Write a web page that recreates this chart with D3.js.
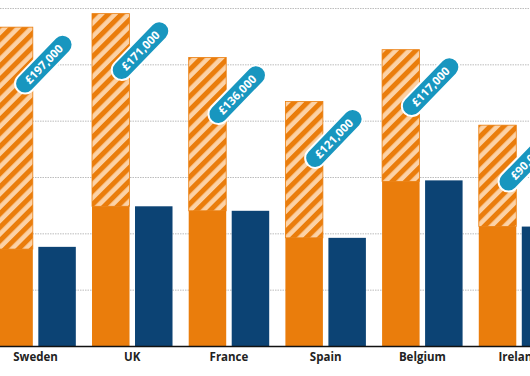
<!DOCTYPE html>
<html lang="en">
  <head>
    <meta charset="utf-8" />
    <title>Bars with hatched top-up</title>
    <script src="https://d3js.org/d3.v7.min.js"></script>
    <style type="text/css">
      body {
        margin: 0;
        background: white;
      }
      .country {
        font-family: "Open Sans", sans-serif;
        font-size: 11.5px;
        font-weight: 700;
        fill: #222;
      }
      .badge text {
        font-family: "Open Sans", sans-serif;
        font-size: 11.5px;
        font-weight: 700;
        fill: white;
      }
    </style>
  </head>
  <body>
    <script type="text/javascript">
      const w = 530;
      const h = 376;

      // Data (thousands of pounds)
      const countries = ["Sweden", "UK", "France", "Spain", "Belgium", "Ireland"];
      const orangeBase = [86, 124, 120, 96, 146, 106];
      const orangeExtra = [197, 171, 136, 121, 117, 90];
      const navyValues = [88, 124, 120, 96, 147, 106];
      const extraLabels = ["£197,000", "£171,000", "£136,000", "£121,000", "£117,000", "£90,000"];
      const gridTicks = [50, 100, 150, 200, 250, 300];

      const orange = "#ea7d0c";
      const peach = "#fcd2a6";
      const navy = "#0c4374";
      const teal = "#1896bf";

      const svg = d3
        .select("body")
        .append("svg")
        .attr("width", w)
        .attr("height", h);

      // Hatch pattern
      const pattern = svg
        .append("defs")
        .append("pattern")
        .attr("id", "hatch")
        .attr("patternUnits", "userSpaceOnUse")
        .attr("width", 9.5)
        .attr("height", 9.5)
        .attr("patternTransform", "rotate(45)");
      pattern.append("rect").attr("width", 9.5).attr("height", 9.5).attr("fill", peach);
      pattern.append("rect").attr("width", 5).attr("height", 9.5).attr("fill", orange);

      // Scales
      const x = d3
        .scaleBand()
        .domain(countries)
        .range([-12.8, 567.4])
        .paddingInner(0.1675)
        .paddingOuter(0.084);

      const xInner = d3
        .scaleBand()
        .domain(["orange", "navy"])
        .range([0, x.bandwidth()])
        .paddingInner(0.128);

      const y = d3.scaleLinear().domain([0, 300]).range([346, 8]);

      // Gridlines
      svg
        .selectAll("line.grid")
        .data(gridTicks)
        .enter()
        .append("line")
        .attr("class", "grid")
        .attr("x1", 0)
        .attr("x2", w)
        .attr("y1", (d) => y(d) + 0.5)
        .attr("y2", (d) => y(d) + 0.5)
        .attr("stroke", "#bdbdbd")
        .attr("stroke-width", 1)
        .attr("stroke-dasharray", "1.5,1");

      const rows = countries.map((c, i) => ({
        country: c,
        base: orangeBase[i],
        extra: orangeExtra[i],
        navy: navyValues[i],
        label: extraLabels[i],
      }));

      const groups = svg
        .selectAll("g.group")
        .data(rows)
        .enter()
        .append("g")
        .attr("class", "group")
        .attr("transform", (d) => "translate(" + x(d.country) + ",0)");

      // Hatched top-up
      groups
        .append("rect")
        .attr("x", xInner("orange"))
        .attr("width", xInner.bandwidth())
        .attr("y", (d) => y(d.base + d.extra))
        .attr("height", (d) => y(d.base) - y(d.base + d.extra))
        .attr("fill", "url(#hatch)")
        .attr("stroke", orange)
        .attr("stroke-width", 0.8);

      // Solid orange
      groups
        .append("rect")
        .attr("x", xInner("orange"))
        .attr("width", xInner.bandwidth())
        .attr("y", (d) => y(d.base))
        .attr("height", (d) => y(0) - y(d.base))
        .attr("fill", orange);

      // Navy
      groups
        .append("rect")
        .attr("x", xInner("navy"))
        .attr("width", xInner.bandwidth())
        .attr("y", (d) => y(d.navy))
        .attr("height", (d) => y(0) - y(d.navy))
        .attr("fill", navy);

      // Baseline
      svg
        .append("line")
        .attr("x1", 0)
        .attr("x2", w)
        .attr("y1", y(0) + 0.5)
        .attr("y2", y(0) + 0.5)
        .attr("stroke", "#111")
        .attr("stroke-width", 1.6);

      // Country labels
      svg
        .selectAll("text.country")
        .data(countries)
        .enter()
        .append("text")
        .attr("class", "country")
        .attr("x", (d) => x(d) + x.bandwidth() / 2)
        .attr("y", 361)
        .attr("text-anchor", "middle")
        .text((d) => d);

      // Badges
      const badges = groups
        .append("g")
        .attr("class", "badge")
        .attr(
          "transform",
          (d) =>
            "translate(" +
            (xInner("orange") + xInner.bandwidth() + 11) +
            "," +
            (y(d.base + d.extra) + 37) +
            ") rotate(-46)"
        );

      badges
        .append("rect")
        .attr("x", -37)
        .attr("y", -10)
        .attr("width", 74)
        .attr("height", 20)
        .attr("rx", 10)
        .attr("fill", teal)
        .attr("stroke", "white")
        .attr("stroke-width", 2);

      badges
        .append("text")
        .attr("text-anchor", "middle")
        .attr("dy", "0.36em")
        .text((d) => d.label);
    </script>
  </body>
</html>
